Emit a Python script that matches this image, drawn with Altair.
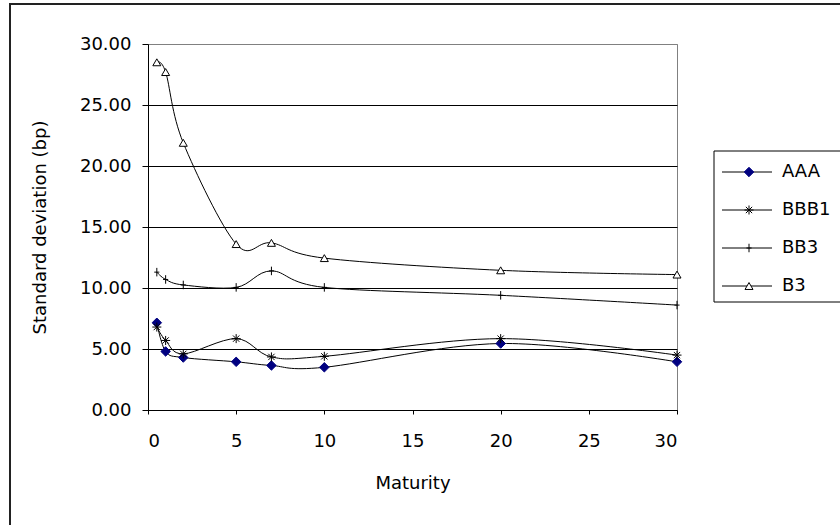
import altair as alt
import pandas as pd

series = ["AAA", "BBB1", "BB3", "B3"]
maturity = [0.5, 1, 2, 5, 7, 10, 20, 30]
aaa = [7.15, 4.8, 4.3, 3.95, 3.65, 3.5, 5.45, 3.95]
bbb1 = [6.8, 5.7, 4.6, 5.85, 4.35, 4.4, 5.85, 4.5]
bb3 = [11.3, 10.7, 10.25, 10.05, 11.4, 10.05, 9.4, 8.6]
b3 = [28.5, 27.7, 21.9, 13.6, 13.7, 12.45, 11.45, 11.1]
y_ticks = [0, 5, 10, 15, 20, 25, 30]
x_ticks = [0, 5, 10, 15, 20, 25, 30]

values = {"AAA": aaa, "BBB1": bbb1, "BB3": bb3, "B3": b3}
rows = []
for s in series:
    for m, v in zip(maturity, values[s]):
        rows.append({"series": s, "maturity": m, "sd": v})
df = pd.DataFrame(rows)
leg = pd.DataFrame({"series": series})

FONT = "DejaVu Sans"
W, H = 529, 366

ASTERISK = "M-1,0L1,0M0,-1L0,1M-0.7,-0.7L0.7,0.7M-0.7,0.7L0.7,-0.7"
PLUS = "M0,-1L0,1M-0.6,0L0.6,0"

shape_scale = alt.Scale(domain=series, range=["diamond", ASTERISK, PLUS, "triangle-up"])
fill_scale = alt.Scale(domain=series, range=["#000080", "transparent", "transparent", "white"])
stroke_scale = alt.Scale(domain=series, range=["#000080", "black", "black", "black"])
size_scale = alt.Scale(domain=series, range=[90, 64, 70, 100])

xs = alt.Scale(domain=[0, 30], nice=False)
ys = alt.Scale(domain=[0, 30], nice=False)

y_axis = alt.Axis(values=y_ticks, format=".2f", tickSize=6, labelPadding=11,
                  titlePadding=30, grid=True,
                  gridColor={"condition": {"test": "datum.value === 30", "value": "#808080"},
                             "value": "black"})
x_axis = alt.Axis(values=x_ticks, format="d", grid=False, tickSize=4,
                  labelPadding=18, titlePadding=24)

lines = alt.Chart(df).mark_line(interpolate="cardinal", color="black", strokeWidth=1).encode(
    x=alt.X("maturity:Q", scale=xs, title="Maturity", axis=x_axis),
    y=alt.Y("sd:Q", scale=ys, title="Standard deviation (bp)", axis=y_axis),
    detail="series:N",
)

points = alt.Chart(df).mark_point(filled=False, strokeWidth=1, opacity=1).encode(
    x=alt.X("maturity:Q", scale=xs, title="Maturity", axis=x_axis),
    y=alt.Y("sd:Q", scale=ys, title="Standard deviation (bp)", axis=y_axis),
    shape=alt.Shape("series:N", scale=shape_scale, legend=None),
    fill=alt.Fill("series:N", scale=fill_scale, legend=None),
    stroke=alt.Stroke("series:N", scale=stroke_scale, legend=None),
    size=alt.Size("series:O", scale=size_scale, legend=None),
)

plot = alt.layer(lines, points)

ly = alt.Y("series:N", scale=alt.Scale(type="point", domain=series, range=[128, 242], padding=0), axis=None)

leg_box = alt.Chart(leg).mark_rect(fill="white", stroke="black", strokeWidth=1).encode(
    x=alt.value(566), x2=alt.value(700), y=alt.value(107), y2=alt.value(258)
).transform_filter("datum.series === 'AAA'")

leg_rule = alt.Chart(leg).mark_rule(color="black", strokeWidth=1).encode(
    x=alt.value(574), x2=alt.value(624), y=ly
)
leg_pts = alt.Chart(leg).mark_point(filled=False, strokeWidth=1, opacity=1).encode(
    x=alt.value(601), y=ly,
    shape=alt.Shape("series:N", scale=shape_scale, legend=None),
    fill=alt.Fill("series:N", scale=fill_scale, legend=None),
    stroke=alt.Stroke("series:N", scale=stroke_scale, legend=None),
    size=alt.Size("series:O", scale=size_scale, legend=None),
)
leg_txt = alt.Chart(leg).mark_text(align="left", baseline="middle", font=FONT, fontSize=18,
                                   color="black").encode(
    x=alt.value(634), y=ly, text="series:N"
)
legend = alt.layer(leg_box, leg_rule, leg_pts, leg_txt)

border = alt.Chart(leg).mark_rect(fill="transparent", stroke="#222", strokeWidth=2).encode(
    x=alt.value(-138), x2=alt.value(720), y=alt.value(-40), y2=alt.value(500)
).transform_filter("datum.series === 'AAA'")

chart = alt.layer(border, plot, legend).resolve_scale(y="independent").properties(
    width=W, height=H,
    autosize=alt.AutoSizeParams(type="none"),
    padding={"left": 148, "top": 44, "right": 163, "bottom": 115},
    background="white",
).configure_view(stroke="#808080", strokeWidth=1).configure_axis(
    labelFont=FONT, labelFontSize=18, labelColor="black",
    titleFont=FONT, titleFontSize=18, titleFontWeight="normal", titleColor="black",
    domainColor="black", tickColor="black", gridWidth=1, domainWidth=1,
)

chart.save("out.html", embed_options={"renderer": "svg", "actions": False})
